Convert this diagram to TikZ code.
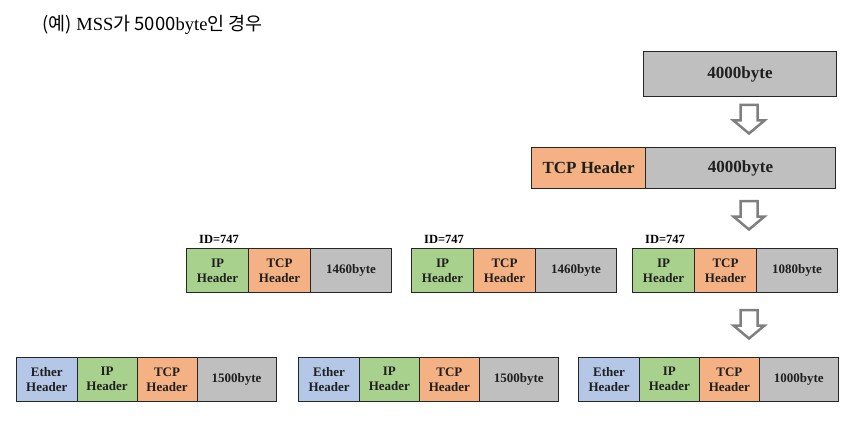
\documentclass[tikz,border=0pt]{standalone}
\usepackage{fontspec}
\setmainfont{Liberation Serif}
\newfontfamily\krfont{Noto Sans CJK KR}
\definecolor{cgray}{HTML}{BFBFBF}
\definecolor{corange}{HTML}{F4B183}
\definecolor{cgreen}{HTML}{A9D18E}
\definecolor{cblue}{HTML}{B4C7E7}
\definecolor{cline}{HTML}{262626}
\definecolor{carrow}{HTML}{7F7F7F}
\begin{document}
\begin{tikzpicture}[x=1pt,y=-1pt,
  cell/.style={draw=cline, line width=1.1pt, anchor=north west, inner sep=0pt,
    font=\bfseries\fontsize{13}{15}\selectfont, align=center, text=black!88},
  bigcell/.style={cell, font=\bfseries\fontsize{17}{19}\selectfont},
  datac/.style={fill=cgray},
  tcpc/.style={fill=corange},
  ipc/.style={fill=cgreen},
  ethc/.style={fill=cblue},
  idlabel/.style={anchor=west, inner sep=0pt, font=\bfseries\fontsize{12.5}{13}\selectfont},
  blockarrow/.style={draw=carrow, line width=2.5pt, fill=white, line join=miter}
]
\useasboundingbox (0,0) rectangle (855,436);

% title
\node[anchor=west, inner sep=0pt] (title) at (42,25)
  {\fontsize{18.5}{20}\selectfont{\krfont (예)} MSS{\krfont 가 5000}byte{\krfont 인 경우}};

% top row
\node[bigcell, datac, minimum width=193pt, minimum height=45pt] (top) at (643,51) {4000byte};

% second row
\node[bigcell, tcpc, minimum width=114pt, minimum height=41pt] (seg-tcp) at (531,147) {TCP Header};
\node[bigcell, datac, minimum width=190pt, minimum height=41pt] (seg-data) at (645,147) {4000byte};

% arrows
\foreach \n/\yt in {a1/105, a2/201, a3/310} {
  \coordinate (\n) at (749,\yt);
  \draw[blockarrow] (\n) ++(-8.5,0) -- ++(17,0) -- ++(0,15.5) -- ++(7,0)
     -- (749,\yt+28.5) -- ++(-15.5,-13) -- ++(7,0) -- cycle;
}

% middle row (IP packets)
\foreach \g/\x/\d in {m1/186/1460byte, m2/411/1460byte, m3/632/1080byte} {
  \node[cell, ipc, minimum width=62pt, minimum height=44pt] (\g-ip) at (\x,248) {IP\\Header};
  \node[cell, tcpc, minimum width=62pt, minimum height=44pt] (\g-tcp) at (\x+62,248) {TCP\\Header};
  \node[cell, datac, minimum width=81pt, minimum height=44pt] (\g-data) at (\x+124,248) {\d};
  \node[idlabel] (\g-id) at (\x+13,239) {ID=747};
}

% bottom row (Ethernet frames)
\foreach \g/\x/\d in {b1/16/1500byte, b2/298.3/1500byte, b3/578.3/1000byte} {
  \node[cell, ethc, minimum width=60.5pt, minimum height=43.5pt] (\g-eth) at (\x,357) {Ether\\Header};
  \node[cell, ipc, minimum width=60pt, minimum height=43.5pt] (\g-ip) at (\x+60.5,357) {IP\\Header};
  \node[cell, tcpc, minimum width=60pt, minimum height=43.5pt] (\g-tcp) at (\x+120.5,357) {TCP\\Header};
  \node[cell, datac, minimum width=79pt, minimum height=43.5pt] (\g-data) at (\x+180.5,357) {\d};
}
\end{tikzpicture}
\end{document}
